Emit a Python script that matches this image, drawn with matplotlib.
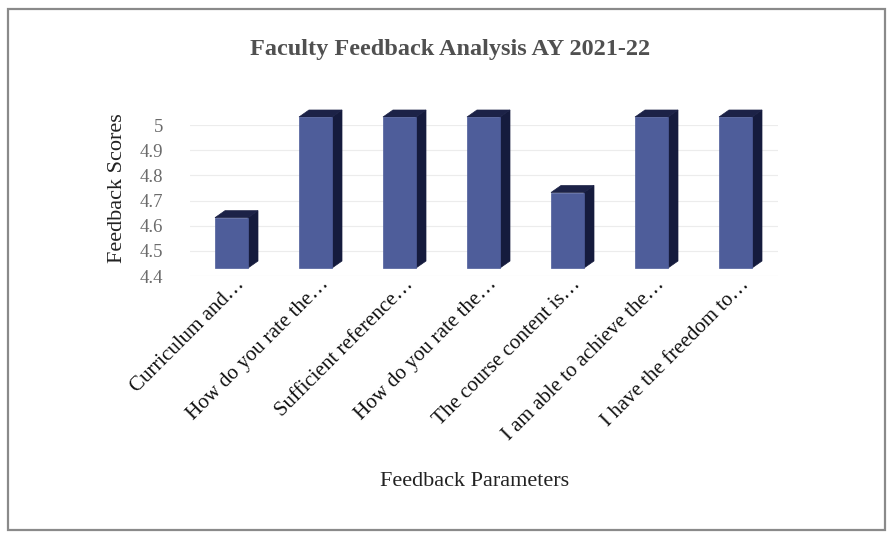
"""Faculty feedback analysis AY 2021-22: pseudo-3D column chart."""

import matplotlib

matplotlib.use("Agg")
import matplotlib.pyplot as plt
from matplotlib.patches import Polygon, Rectangle
from matplotlib.transforms import ScaledTranslation, blended_transform_factory

categories = [
    "Curriculum and\u2026",
    "How do you rate the\u2026",
    "Sufficient reference\u2026",
    "How do you rate the\u2026",
    "The course content is\u2026",
    "I am able to achieve the\u2026",
    "I have the freedom to\u2026",
]
scores = [4.6, 5.0, 5.0, 5.0, 4.7, 5.0, 5.0]
y_ticks = [4.4, 4.5, 4.6, 4.7, 4.8, 4.9, 5.0]
y_tick_labels = ["4.4", "4.5", "4.6", "4.7", "4.8", "4.9", "5"]

FRONT = "#4e5d9a"
SIDE = "#151b3d"
TOP = "#1c2247"
SERIF = ["Liberation Serif", "DejaVu Serif"]

W, H, DPI = 888, 533, 100
fig = plt.figure(figsize=(W / DPI, H / DPI), dpi=DPI)
fig.patch.set_facecolor("white")

# outer frame of the chart area
fig.patches.append(
    Rectangle((8 / W, 3 / H), 877 / W, 521 / H, transform=fig.transFigure,
              fill=False, edgecolor="#8a8a8a", linewidth=1.6)
)

ax_left, ax_w = 189.5, 588
ax_top_px, ax_bot_px = 125, 276
ax = fig.add_axes([ax_left / W, (H - ax_bot_px) / H, ax_w / W, (ax_bot_px - ax_top_px) / H])
n = len(categories)
ax.set_xlim(-0.5, n - 0.5)
ax.set_ylim(4.4, 5.0)

# pixel -> data conversions for the extrusion
px_x = ax_w / n
px_y = (ax_bot_px - ax_top_px) / 0.6
ddx = 10 / px_x
ddy = 7 / px_y
bar_w = 33 / px_x
base = 4.4

lift = ax.transData + ScaledTranslation(0, 8 / DPI, fig.dpi_scale_trans)

for i, v in enumerate(scores):
    x0, x1 = i - bar_w / 2, i + bar_w / 2
    side = Polygon([(x1, base), (x1 + ddx, base + ddy), (x1 + ddx, v + ddy), (x1, v)],
                   closed=True, facecolor=SIDE, edgecolor=SIDE, lw=0.5,
                   transform=lift, clip_on=False, zorder=3)
    top = Polygon([(x0, v), (x0 + ddx, v + ddy), (x1 + ddx, v + ddy), (x1, v)],
                  closed=True, facecolor=TOP, edgecolor=TOP, lw=0.5,
                  transform=lift, clip_on=False, zorder=3)
    ax.add_patch(side)
    ax.add_patch(top)

ax.bar(range(n), [v - base for v in scores], bottom=base, width=bar_w,
       color=FRONT, edgecolor=FRONT, linewidth=0.5, transform=lift,
       clip_on=False, zorder=4)

for spine in ax.spines.values():
    spine.set_visible(False)
ax.set_yticks(y_ticks)
ax.set_yticklabels(y_tick_labels, fontfamily=SERIF, fontsize=13.5, color="#6b6b6b")
ax.yaxis.grid(True, color="#ececec", linewidth=0.8)
ax.set_axisbelow(True)
ax.tick_params(axis="y", length=0, pad=19)

# category labels, rotated, ending just under each bar
ax.set_xticks(range(n))
ax.set_xticklabels([])
ax.tick_params(axis="x", length=0)
lab_tr = blended_transform_factory(ax.transData, ax.transAxes) + ScaledTranslation(
    14 / DPI, -9 / DPI, fig.dpi_scale_trans)
for i, name in enumerate(categories):
    ax.text(i, 0, name, transform=lab_tr, fontfamily=SERIF, fontsize=15,
            color="#111111", rotation=45, ha="right", va="baseline",
            rotation_mode="anchor")

fig.text(117 / W, 1 - 188 / H, "Feedback Scores", rotation=90, ha="center",
         va="center", fontfamily=SERIF, fontsize=16, color="#222222")
fig.text(450 / W, 1 - 50 / H, "Faculty Feedback Analysis AY 2021-22",
         ha="center", va="center", fontfamily=SERIF, fontsize=17.5,
         fontweight="bold", color="#505050")
fig.text(475 / W, 1 - 482 / H, "Feedback Parameters", ha="center", va="center",
         fontfamily=SERIF, fontsize=16, color="#222222")

fig.savefig("out.png", dpi=DPI)
